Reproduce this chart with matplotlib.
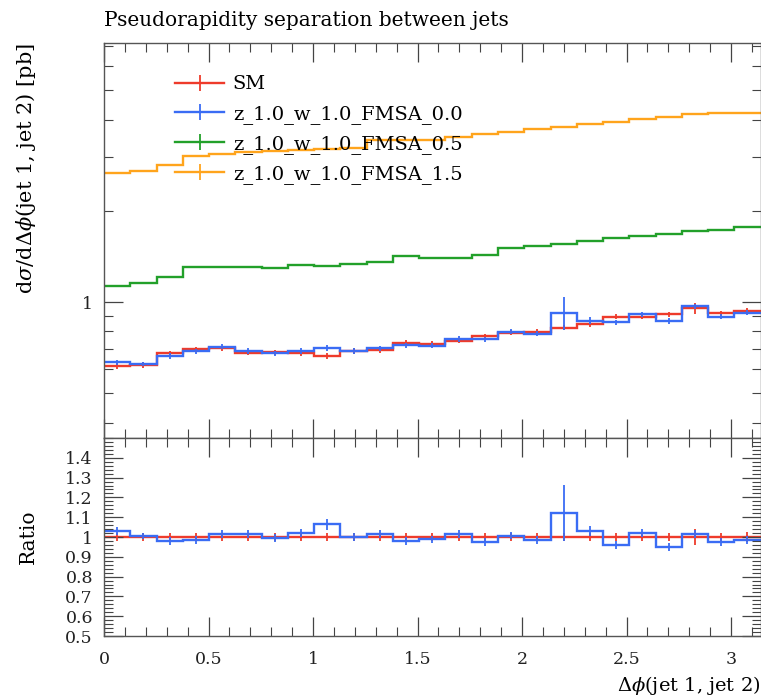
import numpy as np
import matplotlib
matplotlib.use("Agg")
import matplotlib.pyplot as plt
from matplotlib.lines import Line2D
from matplotlib.ticker import LogLocator, NullFormatter, FixedLocator, MultipleLocator

plt.rcParams['font.family'] = ['DejaVu Serif']
plt.rcParams['mathtext.fontset'] = 'dejavuserif'

# 25 bins in delta phi from 0 to pi
n_bins = 25
edges = np.linspace(0, np.pi, n_bins + 1)

sm = [0.615, 0.620, 0.677, 0.698, 0.703, 0.680, 0.682, 0.677, 0.664, 0.689,
      0.694, 0.734, 0.727, 0.745, 0.772, 0.792, 0.798, 0.823, 0.844, 0.894,
      0.894, 0.911, 0.953, 0.918, 0.936]
fmsa_00 = [0.633, 0.624, 0.664, 0.688, 0.713, 0.690, 0.678, 0.690, 0.706, 0.689,
           0.704, 0.720, 0.718, 0.756, 0.753, 0.798, 0.786, 0.922, 0.869, 0.858,
           0.911, 0.866, 0.967, 0.896, 0.922]
fmsa_05 = [1.129, 1.153, 1.206, 1.302, 1.308, 1.308, 1.298, 1.322, 1.318, 1.335,
           1.359, 1.419, 1.401, 1.397, 1.429, 1.504, 1.534, 1.550, 1.593, 1.630,
           1.655, 1.673, 1.720, 1.729, 1.773]
fmsa_15 = [2.671, 2.713, 2.833, 3.032, 3.078, 3.133, 3.157, 3.174, 3.198, 3.230,
           3.425, 3.430, 3.438, 3.496, 3.576, 3.648, 3.715, 3.789, 3.868, 3.936,
           4.009, 4.089, 4.164, 4.196, 4.210]

# relative uncertainties
sm_err = [0.020, 0.020, 0.022, 0.020, 0.020, 0.020, 0.020, 0.022, 0.020, 0.020,
          0.020, 0.022, 0.020, 0.020, 0.020, 0.020, 0.020, 0.020, 0.020, 0.018,
          0.020, 0.020, 0.040, 0.020, 0.025]
fmsa_00_err = [0.020, 0.015, 0.020, 0.020, 0.020, 0.020, 0.020, 0.020, 0.025, 0.020,
               0.020, 0.020, 0.020, 0.020, 0.020, 0.020, 0.020, 0.125, 0.025, 0.020,
               0.020, 0.020, 0.020, 0.020, 0.020]
fmsa_05_err = [0.008, 0.008, 0.008, 0.008, 0.008, 0.008, 0.008, 0.008, 0.008, 0.008,
               0.008, 0.008, 0.008, 0.008, 0.008, 0.008, 0.008, 0.008, 0.008, 0.008,
               0.008, 0.008, 0.008, 0.008, 0.008]
fmsa_15_err = [0.005, 0.005, 0.005, 0.005, 0.005, 0.005, 0.005, 0.005, 0.005, 0.005,
               0.005, 0.005, 0.005, 0.005, 0.005, 0.005, 0.005, 0.005, 0.005, 0.005,
               0.005, 0.005, 0.005, 0.005, 0.005]

labels = ['SM', 'z_1.0_w_1.0_FMSA_0.0', 'z_1.0_w_1.0_FMSA_0.5', 'z_1.0_w_1.0_FMSA_1.5']
colors = ['#ee3b2b', '#3a6cf4', '#22a02a', '#ffa41c']
xticks = [0, 0.5, 1, 1.5, 2, 2.5, 3]
ratio_ticks = [0.5, 0.6, 0.7, 0.8, 0.9, 1.0, 1.1, 1.2, 1.3, 1.4]
ratio_labels = ['0.5', '0.6', '0.7', '0.8', '0.9', '1', '1.1', '1.2', '1.3', '1.4']

fig = plt.figure(figsize=(7.61, 7.0), dpi=100)
ax = fig.add_axes([0.1367, 0.3743, 0.8628, 0.5643])
axr = fig.add_axes([0.1367, 0.0914, 0.8628, 0.2829], sharex=ax)

centers = 0.5 * (edges[1:] + edges[:-1])
series = [sm, fmsa_00, fmsa_05, fmsa_15]
errs = [sm_err, fmsa_00_err, fmsa_05_err, fmsa_15_err]
sm_arr = np.array(sm)

for vals, err, c in zip(series, errs, colors):
    vals = np.array(vals)
    ax.stairs(vals, edges, color=c, lw=1.7, baseline=None)
    ax.errorbar(centers, vals, yerr=vals * np.array(err), fmt='none', ecolor=c, elinewidth=1.3)

# ratio panel: SM and FMSA_0.0 relative to SM
for vals, err, c in zip(series[:2], errs[:2], colors[:2]):
    r = np.array(vals) / sm_arr
    axr.stairs(r, edges, color=c, lw=1.7, baseline=None)
    axr.errorbar(centers, r, yerr=r * np.array(err), fmt='none', ecolor=c, elinewidth=1.3)

ax.set_yscale('log')
ax.set_ylim(0.356, 7.16)
ax.set_xlim(0, np.pi)
ax.yaxis.set_minor_locator(LogLocator(base=10, subs=[2, 3, 4, 5, 6, 7, 8, 9]))
ax.yaxis.set_minor_formatter(NullFormatter())
ax.set_yticks([1])
ax.set_yticklabels(['1'])
ax.tick_params(labelbottom=False)

axr.set_ylim(0.5, 1.5)
axr.yaxis.set_major_locator(FixedLocator(ratio_ticks))
axr.set_yticklabels(ratio_labels)
axr.yaxis.set_minor_locator(MultipleLocator(0.02))
axr.set_xticks(xticks)
axr.set_xticklabels(['0', '0.5', '1', '1.5', '2', '2.5', '3'])

for a in (ax, axr):
    a.xaxis.set_minor_locator(MultipleLocator(0.1))
    a.tick_params(which='both', direction='in', top=True, right=True, colors='#444444',
                  labelcolor='#222222', labelsize=12.5)
    a.tick_params(which='major', length=14, width=0.9, pad=8)
    a.tick_params(which='minor', length=6.5, width=0.8)
    for s in a.spines.values():
        s.set_color('#555555')
        s.set_linewidth(1.0)
axr.tick_params(axis='x', which='major', pad=11)

ax.set_title('Pseudorapidity separation between jets', loc='left', fontsize=14.5, pad=12)
ax.set_ylabel(r'd$\sigma$/d$\Delta\phi$(jet 1, jet 2) [pb]', fontsize=15, loc='top')
ax.yaxis.set_label_coords(-0.1, 1.0)
axr.set_ylabel('Ratio', fontsize=14.5)
axr.yaxis.set_label_coords(-0.1, 0.5)
axr.set_xlabel(r'$\Delta\phi$(jet 1, jet 2)', fontsize=14, loc='right', labelpad=4)

handles = [Line2D([], [], color=c, lw=1.7, marker='|', markersize=12, markeredgewidth=1.3)
           for c in colors]
ax.legend(handles, labels, loc='upper left', bbox_to_anchor=(0.082, 0.962), frameon=False,
          fontsize=14, handlelength=2.5, handletextpad=0.45, labelspacing=0.58, numpoints=1)

fig.savefig('out.png', dpi=100)
